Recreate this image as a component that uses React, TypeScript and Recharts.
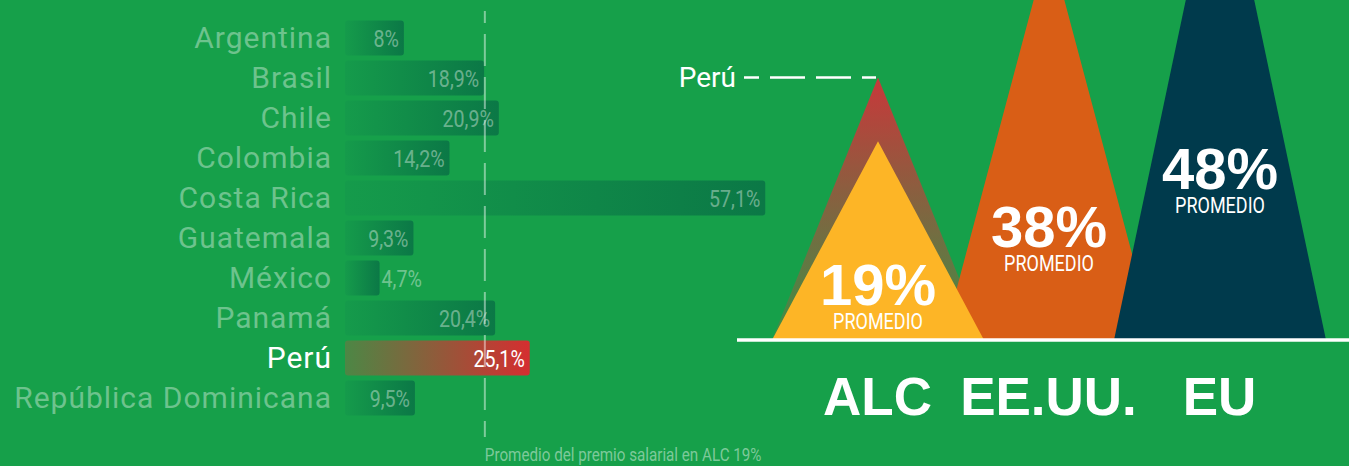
import React from 'react';
import { BarChart, Bar, XAxis, YAxis, Cell, LabelList, ReferenceLine } from 'recharts';

// salary premium by country (%)
const countries = [
  'Argentina', 'Brasil', 'Chile', 'Colombia', 'Costa Rica',
  'Guatemala', 'México', 'Panamá', 'Perú', 'República Dominicana',
];
const premiums = [8, 18.9, 20.9, 14.2, 57.1, 9.3, 4.7, 20.4, 25.1, 9.5];
const highlight = 'Perú';
const alcAverage = 19;
const avgCaption = 'Promedio del premio salarial en ALC 19%';

// regional averages
const regions = ['ALC', 'EE.UU.', 'EU'];
const regionAverages = [19, 38, 48];
const regionColors = ['#fdb526', '#d95e16', '#003a4c'];
const peruPremium = 25.1;
// draw order: EE.UU. sits behind ALC, EU in front
const regionLayers = [1, 0, 2];

const BG = '#16a04a';
const SANS = "Roboto, 'Liberation Sans', sans-serif";
const BOLD = "'Liberation Sans', Arial, sans-serif";

const fmt = (v: number) => `${String(v).replace('.', ',')}%`;

const countryData = countries.map((name, i) => ({ name, value: premiums[i] }));

const regionData = regionLayers.map((i) => ({
  pos: i,
  name: regions[i],
  avg: regionAverages[i],
  peru: i === 0 ? peruPremium : null,
}));

// no condensed face installed, so squeeze Roboto horizontally
const NarrowText = ({ x, y, anchor = 'start', size, fill, children }: any) => (
  <text
    transform={`translate(${x},${y}) scale(0.8,1)`}
    textAnchor={anchor}
    fontSize={size}
    fontFamily={SANS}
    fill={fill}
  >
    {children}
  </text>
);

const CountryTick = (props: any) => {
  const { x, y, payload } = props;
  const hi = payload.value === highlight;
  return (
    <text
      x={x}
      y={y + 10}
      textAnchor="end"
      fontSize={30}
      letterSpacing={1}
      fontFamily={SANS}
      fill={hi ? '#ffffff' : 'rgba(255,255,255,0.38)'}
    >
      {payload.value}
    </text>
  );
};

const renderValueLabel = (props: any) => {
  const vb = props.viewBox ?? props;
  const { x, y, width, height } = vb;
  const text = fmt(props.value as number);
  const estW = text.length * 10.5;
  const inside = width > estW + 8;
  const hi = countries[props.index] === highlight;
  return (
    <NarrowText
      x={inside ? x + width - 5 : x + width + 2}
      y={y + height / 2 + 8.5}
      anchor={inside ? 'end' : 'start'}
      size={24.5}
      fill={hi ? '#ffffff' : 'rgba(255,255,255,0.4)'}
    >
      {text}
    </NarrowText>
  );
};

const renderAvgCaption = (props: any) => {
  const vb = props.viewBox ?? props;
  return (
    <NarrowText x={vb.x} y={vb.y + vb.height + 24} size={19} fill="rgba(255,255,255,0.45)">
      {avgCaption}
    </NarrowText>
  );
};

const Peak = (props: any) => {
  const { x, y, width, height, fill } = props;
  if (!height) return null;
  const cx = x + width / 2;
  const base = y + height;
  return <path d={`M${cx - 106},${base} L${cx},${y} L${cx + 106},${base} Z`} fill={fill} />;
};

const PeruPeak = (props: any) => {
  const { x, y, width, height } = props;
  if (!height) return null;
  const cx = x + width / 2;
  const base = y + height;
  return (
    <g>
      <path d={`M${cx - 106},${base} L${cx},${y} L${cx + 106},${base} Z`} fill="url(#peruPeak)" />
      <line
        x1={cx - 134}
        x2={cx - 2}
        y1={y}
        y2={y}
        stroke="#ffffff"
        strokeWidth={2.5}
        strokeDasharray="35 11"
        strokeDashoffset={20}
      />
      <text x={cx - 142} y={y + 10} textAnchor="end" fontSize={28} fontFamily={SANS} fill="#ffffff">
        {highlight}
      </text>
    </g>
  );
};

const renderPeakLabel = (props: any) => {
  const vb = props.viewBox ?? props;
  const { x, y, width, height } = vb;
  const row = regionData[props.index];
  const cx = x + width / 2;
  const baseline = y + height - 35 - 58 * row.pos;
  return (
    <g>
      <text x={cx} y={baseline} textAnchor="middle" fontSize={58} fontWeight="bold" fontFamily={BOLD} fill="#ffffff">
        {`${row.avg}%`}
      </text>
      <NarrowText x={cx} y={baseline + 24} anchor="middle" size={22.5} fill="#ffffff">
        PROMEDIO
      </NarrowText>
    </g>
  );
};

const RegionTick = (props: any) => {
  const { x, y, payload } = props;
  return (
    <text x={x} y={y + 75} textAnchor="middle" fontSize={53} fontWeight="bold" fontFamily={BOLD} fill="#ffffff">
      {regions[payload.value]}
    </text>
  );
};

export default function App() {
  return (
    <div
      style={{
        position: 'absolute',
        left: 0,
        top: 0,
        width: 1349,
        height: 466,
        overflow: 'hidden',
        background: BG,
      }}
    >
      <div style={{ position: 'absolute', left: 0, top: 0 }}>
        <BarChart
          width={800}
          height={466}
          layout="vertical"
          data={countryData}
          margin={{ top: 11, right: 13.4, bottom: 29, left: 0 }}
          barSize={35}
        >
          <defs>
            <linearGradient id="barGreen" x1="0" y1="0" x2="1" y2="0">
              <stop offset="0" stopColor="#159b4b" />
              <stop offset="1" stopColor="#0b7846" />
            </linearGradient>
            <linearGradient id="barPeru" x1="0" y1="0" x2="1" y2="0">
              <stop offset="0" stopColor="#4c8745" />
              <stop offset="1" stopColor="#d52e30" />
            </linearGradient>
          </defs>
          <XAxis type="number" domain={[0, 60]} hide />
          <YAxis
            type="category"
            dataKey="name"
            width={345}
            axisLine={false}
            tickLine={false}
            tickSize={0}
            tickMargin={13}
            interval={0}
            padding={{ top: 6.5, bottom: 19.5 }}
            tick={<CountryTick />}
          />
          <Bar dataKey="value" radius={3} isAnimationActive={false}>
            {countryData.map((d) => (
              <Cell key={d.name} fill={d.name === highlight ? 'url(#barPeru)' : 'url(#barGreen)'} />
            ))}
            <LabelList dataKey="value" content={renderValueLabel} />
          </Bar>
          <ReferenceLine
            x={alcAverage}
            stroke="rgba(255,255,255,0.45)"
            strokeWidth={2}
            strokeDasharray="32 11"
            strokeDashoffset={16}
            label={renderAvgCaption}
          />
        </BarChart>
      </div>
      <div style={{ position: 'absolute', left: 600, top: -183 }}>
        <BarChart
          width={749}
          height={633}
          data={regionData}
          margin={{ top: 0, right: 0, bottom: 80, left: 137 }}
          barSize={100}
        >
          <defs>
            <linearGradient id="peruPeak" x1="0" y1="0" x2="0" y2="1">
              <stop offset="0" stopColor="#c8383a" />
              <stop offset="1" stopColor="#3a9146" />
            </linearGradient>
          </defs>
          <YAxis hide type="number" domain={[0, 50]} />
          <XAxis
            type="number"
            dataKey="pos"
            domain={[0, 2]}
            ticks={[0, 1, 2]}
            padding={{ left: 140.5, right: 129.5 }}
            axisLine={{ stroke: '#ffffff', strokeWidth: 3.5 }}
            tickLine={false}
            tickSize={0}
            tickMargin={0}
            tick={<RegionTick />}
          />
          <XAxis
            xAxisId="peru"
            hide
            type="number"
            dataKey="pos"
            domain={[0, 2]}
            padding={{ left: 140.5, right: 129.5 }}
          />
          <Bar dataKey="peru" xAxisId="peru" shape={<PeruPeak />} isAnimationActive={false} />
          <Bar dataKey="avg" shape={<Peak />} isAnimationActive={false}>
            {regionData.map((d) => (
              <Cell key={d.name} fill={regionColors[d.pos]} />
            ))}
            <LabelList dataKey="avg" content={renderPeakLabel} />
          </Bar>
        </BarChart>
      </div>
    </div>
  );
}
